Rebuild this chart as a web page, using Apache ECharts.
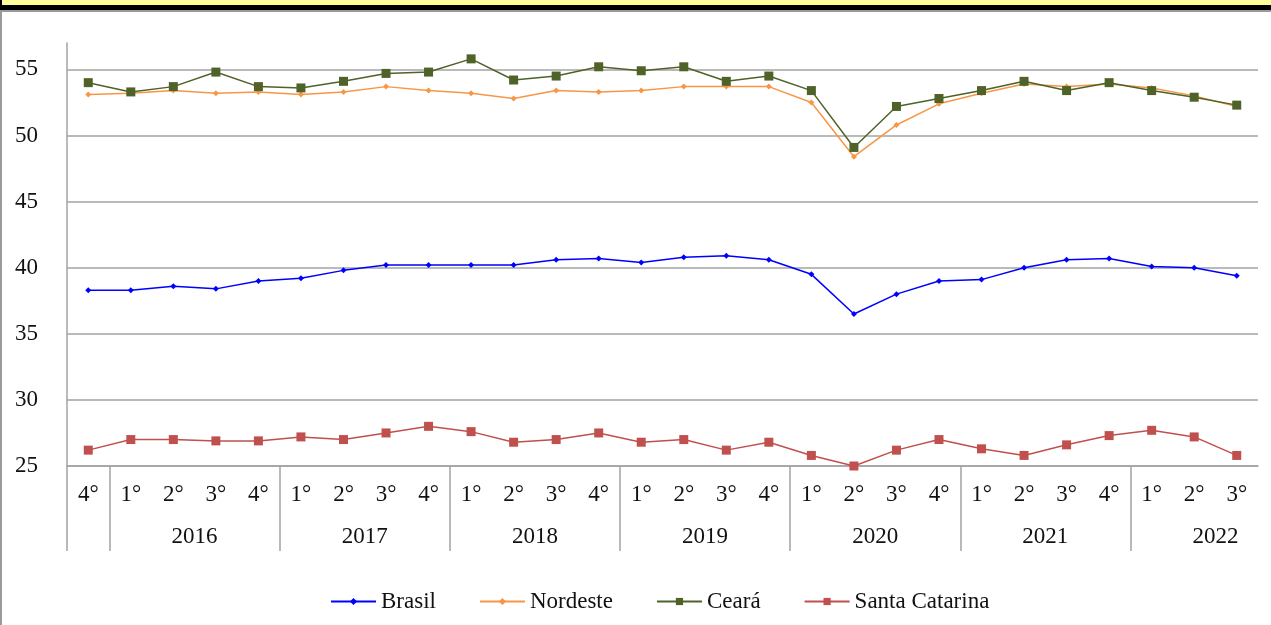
<!DOCTYPE html>
<html>
<head>
<meta charset="utf-8">
<title>Taxa trimestral</title>
<script src="https://cdn.jsdelivr.net/npm/echarts@6/dist/echarts.min.js"></script>
<style>
  html, body { margin: 0; padding: 0; background: #fff; }
  #wrap { position: relative; width: 1271px; height: 625px; overflow: hidden; }
  #yellow { position: absolute; left: 0; top: 0; width: 1271px; height: 5px; background: #ffff99; }
  #black { position: absolute; left: 0; top: 5px; width: 1271px; height: 5px; background: #000; }
  #edgeTop { position: absolute; left: 0; top: 10px; width: 1271px; height: 2px; background: #9a9a9a; }
  #edgeLeft { position: absolute; left: 0; top: 10px; width: 2px; height: 615px; background: #9a9a9a; }
  #blackLeft { position: absolute; left: 0; top: 0; width: 2px; height: 10px; background: #000; }
  #chart { position: absolute; left: 0; top: 0; width: 1271px; height: 625px; }
</style>
</head>
<body>
<div id="wrap">
  <div id="yellow"></div>
  <div id="black"></div>
  <div id="blackLeft"></div>
  <div id="edgeTop"></div>
  <div id="edgeLeft"></div>
  <div id="chart"></div>
</div>
<script>
// quarters: 4th of 2015 then 2016..2022
const quarters = ['4°',
  '1°', '2°', '3°', '4°',
  '1°', '2°', '3°', '4°',
  '1°', '2°', '3°', '4°',
  '1°', '2°', '3°', '4°',
  '1°', '2°', '3°', '4°',
  '1°', '2°', '3°', '4°',
  '1°', '2°', '3°'];

// year groups: label and index of its first quarter
const years = ['', '2016', '2017', '2018', '2019', '2020', '2021', '2022'];
const yearStart = [0, 1, 5, 9, 13, 17, 21, 25];

const brasil = [38.3, 38.3, 38.6, 38.4, 39.0, 39.2, 39.8, 40.2, 40.2, 40.2, 40.2, 40.6, 40.7, 40.4,
  40.8, 40.9, 40.6, 39.5, 36.5, 38.0, 39.0, 39.1, 40.0, 40.6, 40.7, 40.1, 40.0, 39.4];
const nordeste = [53.1, 53.2, 53.4, 53.2, 53.3, 53.1, 53.3, 53.7, 53.4, 53.2, 52.8, 53.4, 53.3, 53.4,
  53.7, 53.7, 53.7, 52.5, 48.4, 50.8, 52.4, 53.2, 53.9, 53.7, 53.9, 53.6, 53.0, 52.2];
const ceara = [54.0, 53.3, 53.7, 54.8, 53.7, 53.6, 54.1, 54.7, 54.8, 55.8, 54.2, 54.5, 55.2, 54.9,
  55.2, 54.1, 54.5, 53.4, 49.1, 52.2, 52.8, 53.4, 54.1, 53.4, 54.0, 53.4, 52.9, 52.3];
const santaCatarina = [26.2, 27.0, 27.0, 26.9, 26.9, 27.2, 27.0, 27.5, 28.0, 27.6, 26.8, 27.0, 27.5, 26.8,
  27.0, 26.2, 26.8, 25.8, 25.0, 26.2, 27.0, 26.3, 25.8, 26.6, 27.3, 27.7, 27.2, 25.8];

const serif = '"Liberation Serif", "DejaVu Serif", serif';
const gridColor = '#a3a3a3';
const textColor = '#111';

// half-quarter slots for the year row: slot 2*i is the left edge of quarter i
const slots = [];
for (let i = 0; i <= quarters.length * 2; i++) slots.push('');
const bounds = {};
yearStart.forEach((s, i) => {
  bounds[2 * s] = true;
  if (years[i]) slots[2 * s + 4] = years[i];
});

const chart = echarts.init(document.getElementById('chart'));

function lineSeries(name, data, color, symbol, size) {
  return {
    name: name,
    type: 'line',
    data: data,
    symbol: symbol,
    symbolSize: size,
    showAllSymbol: true,
    lineStyle: { color: color, width: 1.5 },
    itemStyle: { color: color },
    emphasis: { disabled: true }
  };
}

chart.setOption({
  animation: false,
  grid: { left: 67, right: 13, top: 43, bottom: 159 },
  xAxis: [
    {
      type: 'category',
      data: quarters,
      boundaryGap: true,
      axisLine: { lineStyle: { color: gridColor, width: 1.5 } },
      axisTick: { show: false },
      axisLabel: {
        interval: 0, margin: 17,
        fontFamily: serif, fontSize: 23, color: textColor
      }
    },
    {
      type: 'category',
      data: slots,
      boundaryGap: false,
      position: 'bottom',
      axisLine: { show: false },
      axisTick: {
        show: true,
        length: 85,
        interval: (idx) => !!bounds[idx],
        lineStyle: { color: gridColor, width: 1.5 }
      },
      axisLabel: {
        interval: 0, margin: 59,
        fontFamily: serif, fontSize: 23, color: textColor
      }
    }
  ],
  yAxis: {
    type: 'value',
    min: 25,
    max: 57,
    interval: 5,
    axisLine: { show: true, lineStyle: { color: gridColor, width: 1.5 } },
    axisTick: { show: false },
    axisLabel: {
      margin: 29, showMaxLabel: false,
      fontFamily: serif, fontSize: 23, color: textColor
    },
    splitLine: { showMaxLine: false, lineStyle: { color: gridColor, width: 1.5 } }
  },
  legend: {
    bottom: 7,
    left: 325,
    itemWidth: 45,
    itemHeight: 9,
    itemGap: 43,
    textStyle: { fontFamily: serif, fontSize: 23, color: textColor },
    data: ['Brasil', 'Nordeste', 'Ceará', 'Santa Catarina']
  },
  series: [
    lineSeries('Brasil', brasil, '#0000ff', 'diamond', 6),
    lineSeries('Nordeste', nordeste, '#f79646', 'diamond', 6),
    lineSeries('Ceará', ceara, '#4f6228', 'rect', 9),
    lineSeries('Santa Catarina', santaCatarina, '#c0504d', 'rect', 9)
  ]
});
</script>
</body>
</html>
